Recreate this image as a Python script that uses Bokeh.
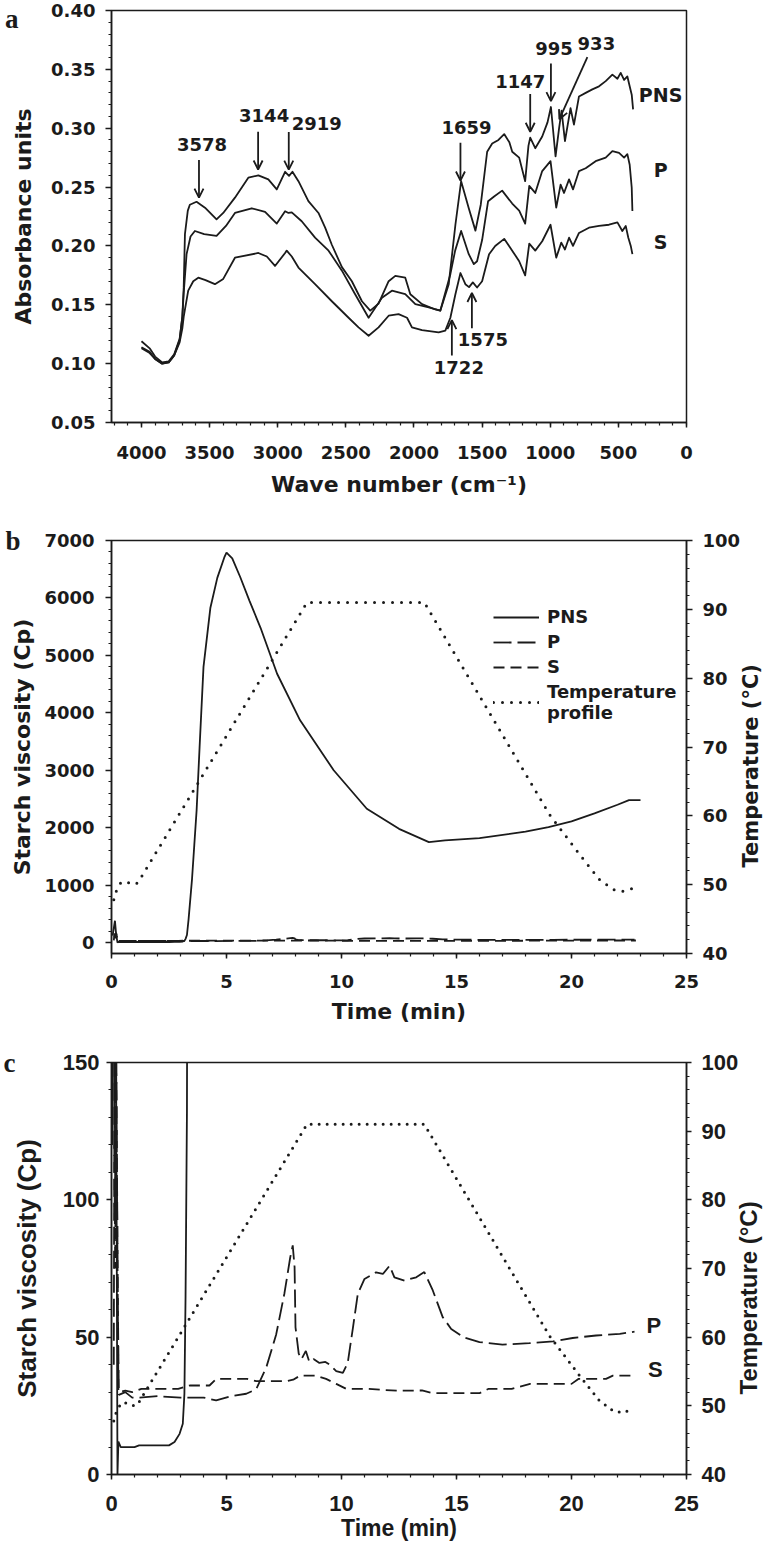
import math
import numpy as np
from bokeh.plotting import figure
from bokeh.models import (Range1d, LinearAxis, FixedTicker, PrintfTickFormatter,
                          Label, Arrow, OpenHead, Legend, LegendItem)
from bokeh.layouts import column
from bokeh.embed import file_html
from bokeh.resources import INLINE

# ---------------- Panel a : FTIR spectra ----------------
wn_pns = [4000, 3940, 3900, 3848, 3800, 3760, 3720, 3700, 3690, 3681, 3660, 3645, 3596, 3534, 3449, 3400, 3314, 3216, 3142, 3069,
          3007, 2946, 2917, 2892, 2848, 2775, 2701, 2652, 2603, 2529, 2456, 2382, 2321, 2260, 2186, 2137, 2064, 2027, 1941, 1843,
          1807, 1745, 1696, 1654, 1598, 1549, 1510, 1463, 1426, 1380, 1338, 1300, 1279, 1228, 1184, 1160, 1147, 1110, 1059, 1020,
          995, 961, 935, 917, 892, 851, 826, 789, 740, 691, 642, 593, 544, 507, 483, 458, 434, 417, 402, 392]
abs_pns = [0.119, 0.113, 0.106, 0.101, 0.102, 0.108, 0.121, 0.140, 0.165, 0.210, 0.230, 0.235, 0.2375, 0.2325, 0.2226, 0.228, 0.241, 0.258, 0.260, 0.2565,
           0.248, 0.263, 0.2595, 0.263, 0.255, 0.238, 0.228, 0.2155, 0.201, 0.182, 0.170, 0.153, 0.145, 0.151, 0.170, 0.1746, 0.173, 0.159, 0.1506, 0.146,
           0.145, 0.1675, 0.218, 0.255, 0.232, 0.213, 0.235, 0.280, 0.287, 0.290, 0.295, 0.288, 0.280, 0.275, 0.255, 0.285, 0.292, 0.283, 0.293, 0.305,
           0.318, 0.276, 0.300, 0.315, 0.289, 0.317, 0.303, 0.327, 0.330, 0.333, 0.3356, 0.340, 0.3455, 0.342, 0.347, 0.341, 0.344, 0.3356, 0.3285, 0.316]

wn_p = [4000, 3940, 3900, 3848, 3800, 3760, 3720, 3700, 3690, 3669, 3640, 3608, 3540, 3449, 3380, 3314, 3191, 3093, 3007, 2946,
        2921, 2897, 2824, 2726, 2627, 2529, 2432, 2333, 2235, 2162, 2064, 1990, 1892, 1807, 1733, 1698, 1654, 1598, 1561, 1537,
        1500, 1456, 1412, 1353, 1279, 1228, 1184, 1154, 1110, 1059, 998, 956, 924, 899, 862, 833, 789, 740, 667, 593,
        544, 495, 458, 434, 417, 402, 397]
abs_p = [0.114, 0.110, 0.104, 0.100, 0.101, 0.107, 0.120, 0.140, 0.160, 0.193, 0.208, 0.2127, 0.210, 0.2085, 0.217, 0.228, 0.232, 0.229, 0.219, 0.2295,
         0.228, 0.2285, 0.221, 0.207, 0.196, 0.179, 0.159, 0.139, 0.156, 0.162, 0.159, 0.1506, 0.1477, 0.145, 0.176, 0.196, 0.2127, 0.193, 0.1845, 0.187,
         0.205, 0.238, 0.242, 0.247, 0.236, 0.230, 0.219, 0.251, 0.245, 0.2636, 0.272, 0.2325, 0.252, 0.245, 0.2565, 0.248, 0.2636, 0.266, 0.272, 0.275,
         0.2805, 0.279, 0.275, 0.278, 0.269, 0.2494, 0.2297]

wn_s = [4000, 3940, 3900, 3848, 3800, 3760, 3720, 3700, 3690, 3657, 3620, 3583, 3530, 3461, 3400, 3314, 3142, 3080, 3020, 2946,
        2934, 2897, 2848, 2726, 2603, 2480, 2407, 2333, 2260, 2186, 2113, 2051, 2015, 1941, 1819, 1770, 1733, 1696, 1659, 1623,
        1596, 1568, 1537, 1500, 1449, 1404, 1338, 1279, 1228, 1184, 1154, 1110, 1059, 998, 956, 919, 892, 862, 833, 789,
        716, 642, 569, 507, 471, 446, 427, 409, 397]
abs_s = [0.113, 0.109, 0.104, 0.100, 0.101, 0.107, 0.118, 0.130, 0.140, 0.162, 0.170, 0.173, 0.171, 0.1675, 0.172, 0.190, 0.194, 0.191, 0.183, 0.194,
         0.196, 0.191, 0.1816, 0.1675, 0.153, 0.139, 0.1308, 0.1237, 0.1308, 0.1407, 0.142, 0.139, 0.1308, 0.1285, 0.1265, 0.128, 0.139, 0.159, 0.177, 0.1675,
         0.165, 0.169, 0.1647, 0.170, 0.193, 0.200, 0.206, 0.196, 0.187, 0.175, 0.202, 0.196, 0.204, 0.218, 0.190, 0.2028, 0.197, 0.207, 0.200, 0.211,
         0.2155, 0.217, 0.218, 0.220, 0.2127, 0.217, 0.207, 0.200, 0.193]

series_names = ["PNS", "P", "S"]
peaks_down = ["3578", "3144", "2919", "1659", "1147", "995"]   # arrows onto PNS
peak_diag = "933"
peaks_up = ["1722", "1575"]                                    # arrows onto S
panel_letters = ["a", "b", "c"]

wn_ticks = [4000, 3500, 3000, 2500, 2000, 1500, 1000, 500, 0]
abs_ticks = [0.05, 0.10, 0.15, 0.20, 0.25, 0.30, 0.35, 0.40]

# ---------------- Panels b, c : viscosity profiles ----------------
t_pns = [0.05, 0.10, 0.15, 0.20, 0.26, 0.30, 0.40, 1.00, 1.20, 2.50, 2.74, 2.96, 3.10, 3.17, 3.22, 3.28, 3.35, 3.50, 3.60, 3.70,
         3.83, 4.00, 4.30, 4.60, 4.90, 5.00, 5.25, 5.60, 6.00, 6.48, 7.20, 8.20, 9.66, 11.10, 12.50, 13.80, 14.50, 16.00, 18.00, 19.00,
         20.00, 21.00, 22.00, 22.50, 23.00]
visc_pns = [120, 250, 380, 150, 0, 12, 10, 10, 10.6, 10.6, 11.8, 14.8, 18.5, 29.4, 65, 132, 400, 1100, 1700, 2300,
            3400, 4800, 5830, 6350, 6700, 6790, 6690, 6360, 5950, 5480, 4680, 3870, 3000, 2330, 1980, 1750, 1780, 1820, 1930, 2010,
            2110, 2250, 2400, 2480, 2480]

t_p = [0.10, 0.13, 0.17, 0.20, 0.24, 0.28, 0.32, 0.60, 0.90, 1.20, 2.00, 3.00, 4.00, 4.55, 5.20, 5.86, 6.29, 6.73, 7.16, 7.52,
       7.77, 7.88, 7.96, 8.00, 8.14, 8.26, 8.45, 8.60, 8.80, 9.04, 9.30, 9.48, 9.77, 10.06, 10.27, 10.50, 10.71, 11.00, 11.50, 11.80,
       12.09, 12.30, 12.74, 13.25, 13.60, 13.97, 14.40, 14.77, 15.30, 16.00, 17.00, 18.17, 19.20, 20.05, 21.07, 22.10, 22.74]
visc_p = [40, 160, 90, 170, 110, 60, 29, 30, 28, 28, 28.5, 28, 28, 27, 28.5, 29.4, 31, 39, 51, 66,
          79, 83.4, 75.5, 53.6, 44, 42, 45, 41, 42, 40.6, 41, 40, 37.6, 37, 40.6, 53.6, 65.8, 71.2, 73.6, 73,
          76, 71.8, 70.6, 71.8, 73.7, 67, 57.3, 53, 50, 48.2, 47.3, 47.8, 48.5, 49.7, 50.6, 51.2, 52]

t_s = [0.12, 0.16, 0.20, 0.25, 0.30, 0.60, 0.90, 1.30, 2.90, 3.40, 4.26, 4.55, 5.90, 6.29, 7.60, 7.90, 8.20, 8.90, 9.33, 9.77,
       10.20, 11.10, 11.80, 12.50, 13.50, 13.97, 16.00, 16.40, 17.40, 18.20, 20.00, 20.30, 21.50, 21.80, 22.80]
visc_s = [120, 75, 150, 90, 30, 30.5, 30, 31.2, 31.2, 32.4, 32.4, 34.8, 34.8, 34, 34, 34.5, 36, 36, 34.8, 33,
          31.2, 31.2, 30.8, 30.5, 30.6, 29.6, 29.6, 31.2, 31.2, 33, 33, 34.8, 34.8, 36, 36]

t_temp = [0.10, 0.20, 0.42, 0.64, 1.00, 1.15, 8.50, 13.60, 19.04, 20.35, 21.20, 21.80, 22.20, 22.70]
temp_c = [47.8, 49.0, 50.4, 50.4, 50.0, 50.3, 91.0, 91.0, 60.2, 54.4, 50.8, 49.3, 49.0, 49.5]

time_ticks = [0, 5, 10, 15, 20, 25]
visc_ticks_b = [0, 1000, 2000, 3000, 4000, 5000, 6000, 7000]
visc_ticks_c = [0, 50, 100, 150]
temp_ticks = [40, 50, 60, 70, 80, 90, 100]
temp_title = "Temperature (\u00b0C)"

# ---------------- styling helpers ----------------
INK = "#1b1b1b"
BL, BR = 111, 87
FRAME_W = 575
DASH_P = "18 6"
DASH_S = "11 6"
SANS_AB = "DejaVu Sans"
SANS_C = "Liberation Sans"


def base_fig(frame_h, top, bottom, x_range, y_range):
    f = figure(frame_width=FRAME_W, frame_height=frame_h, x_range=x_range, y_range=y_range,
               output_backend="svg", toolbar_location=None,
               min_border_left=BL, min_border_right=BR,
               min_border_top=top, min_border_bottom=bottom)
    f.xgrid.visible = False
    f.ygrid.visible = False
    f.outline_line_color = INK
    f.outline_line_width = 1.5
    f.background_fill_color = "white"
    f.border_fill_color = "white"
    return f


def style_axis(ax, font, tick_px, label_px, tick_out, minor_out, lab_standoff, axlab_standoff):
    ax.axis_line_color = INK
    ax.axis_line_width = 1.5
    ax.major_tick_line_color = INK
    ax.major_tick_line_width = 1.5
    ax.minor_tick_line_color = INK
    ax.minor_tick_line_width = 1.2
    ax.major_tick_in = 0
    ax.major_tick_out = tick_out
    ax.minor_tick_in = 0
    ax.minor_tick_out = minor_out
    ax.major_label_text_font = font
    ax.major_label_text_font_style = "bold"
    ax.major_label_text_font_size = f"{tick_px}px"
    ax.major_label_text_color = INK
    ax.major_label_standoff = lab_standoff
    ax.axis_label_text_font = font
    ax.axis_label_text_font_style = "bold"
    ax.axis_label_text_font_size = f"{label_px}px"
    ax.axis_label_text_color = INK
    ax.axis_label_standoff = axlab_standoff


def bare_axis(ticks, labels, font, size_px, standoff, side_range=None, angle=None):
    # an invisible axis whose only content is one (or more) tick labels used as text
    kw = {} if side_range is None else {"y_range_name": side_range}
    ax = LinearAxis(ticker=FixedTicker(ticks=ticks, minor_ticks=[]),
                    major_label_overrides=dict(zip(ticks, labels)), **kw)
    ax.axis_line_color = None
    ax.major_tick_line_color = None
    ax.minor_tick_line_color = None
    ax.major_tick_in = 0
    ax.major_tick_out = 0
    ax.minor_tick_in = 0
    ax.minor_tick_out = 0
    ax.major_label_text_font = font
    ax.major_label_text_font_style = "bold"
    ax.major_label_text_font_size = f"{size_px}px"
    ax.major_label_text_color = INK
    if angle is not None:
        ax.major_label_orientation = angle
    try:
        ax.major_label_standoff = standoff
    except Exception:
        ax.major_label_standoff = 0
    return ax


def add_letter(f, letter, at_value, standoff):
    f.add_layout(bare_axis([at_value], [letter], "Liberation Serif", 27, standoff), "left")


# ================= Panel a =================
A_FH, A_TOP, A_BOT = 412, 10, 84
XA = (4220, 0)
YA = (0.05, 0.40)
fa = base_fig(A_FH, A_TOP, A_BOT, Range1d(*XA), Range1d(*YA))
fa.xaxis.ticker = FixedTicker(ticks=wn_ticks, minor_ticks=list(range(0, 4201, 100)))
fa.yaxis.ticker = FixedTicker(ticks=abs_ticks, minor_ticks=[round(v, 2) for v in np.arange(0.05, 0.4001, 0.01)])
fa.yaxis.formatter = PrintfTickFormatter(format="%.2f")
fa.xaxis.axis_label = "Wave number (cm\u207b\u00b9)"
fa.yaxis.axis_label = "Absorbance units"
style_axis(fa.xaxis[0], SANS_AB, 18, 22, 5, 3, 18, 10)
style_axis(fa.yaxis[0], SANS_AB, 18, 22, 6, 3, 10, 12)

spectra = [(wn_pns, abs_pns), (wn_p, abs_p), (wn_s, abs_s)]
for wn, ab in spectra:
    fa.line(wn, ab, line_color=INK, line_width=1.8, line_join="round")

px_per_wn = FRAME_W / (XA[0] - XA[1])
px_per_abs = A_FH / (YA[1] - YA[0])


def curve_at(wn, ab, x):
    return float(np.interp(x, wn[::-1], ab[::-1]))


ann_font = dict(text_font=SANS_AB, text_font_style="bold", text_font_size="18px", text_color=INK)
head = dict(size=9, line_width=1.8, line_color=INK)
ARROW_LEN = 0.032
down_layout = {"3578": (3, 15, "center"), "3144": (6, 16, "center"), "2919": (3, 9, "left"),
               "1659": (6, 15, "center"), "1147": (-10, 13, "center"), "995": (3, 15, "center")}
for lab in peaks_down:
    x = float(lab)
    tip = curve_at(wn_pns, abs_pns, x) + 0.005
    tail = tip + ARROW_LEN
    fa.add_layout(Arrow(end=OpenHead(**head), x_start=x, y_start=tail, x_end=x, y_end=tip,
                        line_color=INK, line_width=1.8))
    dx, dy, al = down_layout[lab]
    fa.add_layout(Label(x=x, y=tail, x_offset=dx, y_offset=dy, text=lab, text_align=al,
                        text_baseline="middle", **ann_font))

x933 = float(peak_diag)
tip933 = curve_at(wn_pns, abs_pns, x933) + 0.006
tail_x = x933 - 28 / px_per_wn
tail_y = tip933 + 62 / px_per_abs
fa.add_layout(Arrow(end=OpenHead(**head), x_start=tail_x, y_start=tail_y, x_end=x933, y_end=tip933,
                    line_color=INK, line_width=1.8))
fa.add_layout(Label(x=tail_x, y=tail_y, x_offset=9, y_offset=14, text=peak_diag, text_align="center",
                    text_baseline="middle", **ann_font))

up_layout = {"1722": (7, -12), "1575": (11, -11)}
for lab in peaks_up:
    x = float(lab)
    tip = curve_at(wn_s, abs_s, x) - 0.008
    tail = tip - 0.03
    fa.add_layout(Arrow(end=OpenHead(**head), x_start=x, y_start=tail, x_end=x, y_end=tip,
                        line_color=INK, line_width=1.8))
    dx, dy = up_layout[lab]
    fa.add_layout(Label(x=x, y=tail, x_offset=dx, y_offset=dy, text=lab, text_align="center",
                        text_baseline="middle", **ann_font))

for name, (wn, ab) in zip(series_names, spectra):
    fa.add_layout(Label(x=190, y=curve_at(wn, ab, 500) - 0.015, text=name, text_align="center",
                        text_baseline="middle", text_font=SANS_AB, text_font_style="bold",
                        text_font_size="19px", text_color=INK))
add_letter(fa, panel_letters[0], round(YA[1] - 8 / px_per_abs, 4), -10)

# ================= Panel b =================
B_FH, B_TOP, B_BOT = 413, 34, 80
YB = (-190, 7000)
TR = (40, 100)
fb = base_fig(B_FH, B_TOP, B_BOT, Range1d(0, 25), Range1d(*YB))
fb.extra_y_ranges = {"temp": Range1d(*TR)}
fb.xaxis.ticker = FixedTicker(ticks=time_ticks, minor_ticks=list(range(0, 26)))
fb.yaxis.ticker = FixedTicker(ticks=visc_ticks_b, minor_ticks=list(range(0, 7001, 200)))
fb.xaxis.axis_label = "Time (min)"
fb.yaxis.axis_label = "Starch viscosity (Cp)"
style_axis(fb.xaxis[0], SANS_AB, 18, 22, 5, 3, 16, 8)
style_axis(fb.yaxis[0], SANS_AB, 18, 22, 6, 3, 11, 6)
rb_ax = LinearAxis(y_range_name="temp",
                   ticker=FixedTicker(ticks=temp_ticks, minor_ticks=list(range(40, 101, 2))))
style_axis(rb_ax, SANS_AB, 18, 21, 6, 3, 10, 6)
fb.add_layout(rb_ax, "right")
# right-hand title, reading bottom-to-top; anchored where its first letter sits
b_px_per_deg = B_FH / (TR[1] - TR[0])
fb.add_layout(bare_axis([round(TR[0] + 86 / b_px_per_deg, 2)], [temp_title], SANS_AB, 21, 8,
                        side_range="temp", angle=math.pi / 2), "right")

r_pns = fb.line(t_pns, visc_pns, line_color=INK, line_width=1.8)
r_p = fb.line(t_p, visc_p, line_color=INK, line_width=1.8, line_dash=DASH_P)
r_s = fb.line(t_s, visc_s, line_color=INK, line_width=1.8, line_dash=DASH_S)
r_t = fb.line(t_temp, temp_c, y_range_name="temp", line_color=INK, line_width=3,
              line_dash="0 9", line_cap="round")
legend = Legend(items=[LegendItem(label="PNS", renderers=[r_pns]),
                       LegendItem(label="P", renderers=[r_p]),
                       LegendItem(label="S", renderers=[r_s]),
                       LegendItem(label="Temperature\nprofile", renderers=[r_t])],
                location=(382, 230), border_line_alpha=0, background_fill_alpha=0,
                label_text_font=SANS_AB, label_text_font_style="bold", label_text_font_size="18px",
                label_text_color=INK, glyph_width=46, glyph_height=20, label_height=20,
                label_standoff=8, spacing=4, padding=0, margin=0)
fb.add_layout(legend)
add_letter(fb, panel_letters[1], YB[1] - 1, -13)

# ================= Panel c =================
C_FH, C_TOP, C_BOT = 412, 29, 73
YC = (0, 150)
fc = base_fig(C_FH, C_TOP, C_BOT, Range1d(0, 25), Range1d(*YC))
fc.extra_y_ranges = {"temp": Range1d(*TR)}
fc.xaxis.ticker = FixedTicker(ticks=time_ticks, minor_ticks=list(range(0, 26)))
fc.yaxis.ticker = FixedTicker(ticks=visc_ticks_c, minor_ticks=list(range(0, 151, 10)))
fc.xaxis.axis_label = "Time (min)"
fc.yaxis.axis_label = "Starch viscosity (Cp)"
style_axis(fc.xaxis[0], SANS_C, 22, 23, 5, 3, 16, 1)
style_axis(fc.yaxis[0], SANS_C, 22, 26, 5, 3, 7, 18)
rc_ax = LinearAxis(y_range_name="temp",
                   ticker=FixedTicker(ticks=temp_ticks, minor_ticks=list(range(40, 101, 2))))
style_axis(rc_ax, SANS_C, 22, 25, 5, 3, 10, 3)
fc.add_layout(rc_ax, "right")
c_px_per_deg = C_FH / (TR[1] - TR[0])
fc.add_layout(bare_axis([round(TR[0] + 80 / c_px_per_deg, 2)], [temp_title], SANS_C, 24, 7,
                        side_range="temp", angle=math.pi / 2), "right")

fc.line(t_pns, visc_pns, line_color=INK, line_width=1.8)
fc.line(t_p, visc_p, line_color=INK, line_width=1.8, line_dash=DASH_P)
fc.line(t_s, visc_s, line_color=INK, line_width=1.8, line_dash=DASH_S)
fc.line(t_temp, temp_c, y_range_name="temp", line_color=INK, line_width=3,
        line_dash="0 8", line_cap="round")
for name, tt, vv in (("P", t_p, visc_p), ("S", t_s, visc_s)):
    fc.add_layout(Label(x=tt[-1], y=vv[-1], x_offset=12, y_offset=6, text=name, text_align="left",
                        text_baseline="middle", text_font=SANS_C, text_font_style="bold",
                        text_font_size="22px", text_color=INK))
add_letter(fc, panel_letters[2], YC[1] - 0.1, -7)

layout = column(fa, fb, fc, spacing=0)
open("out.html", "w").write(file_html(layout, INLINE))
